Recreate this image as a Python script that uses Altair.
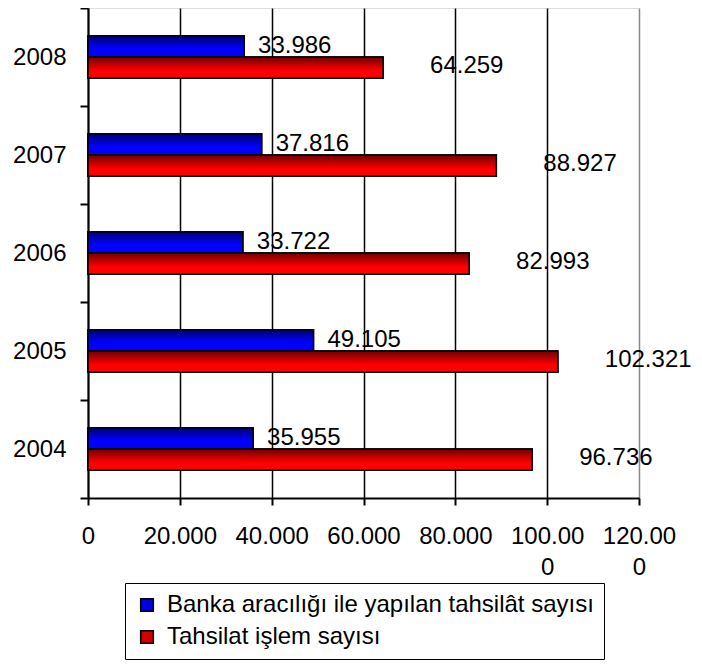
import altair as alt
import pandas as pd

years = ["2004", "2005", "2006", "2007", "2008"]
series = ["Banka aracılığı ile yapılan tahsilât sayısı", "Tahsilat işlem sayısı"]
banka = [35955, 49105, 33722, 37816, 33986]
tahsilat = [96736, 102321, 82993, 88927, 64259]
x_ticks = [0, 20000, 40000, 60000, 80000, 100000, 120000]

def tr(v):
    return f"{v:,}".replace(",", ".")

rows = []
for y, b, t in zip(years, banka, tahsilat):
    rows.append({"year": y, "series": series[0], "value": b, "label": tr(b)})
    rows.append({"year": y, "series": series[1], "value": t, "label": tr(t)})
df = pd.DataFrame(rows)

FONT = "Liberation Sans"
FS = 24

blue_grad = alt.Gradient(
    gradient="linear", x1=0, x2=0, y1=0, y2=1,
    stops=[alt.GradientStop(color="#000070", offset=0),
           alt.GradientStop(color="#0000ff", offset=0.6),
           alt.GradientStop(color="#0000ff", offset=1)])
red_grad = alt.Gradient(
    gradient="linear", x1=0, x2=0, y1=0, y2=1,
    stops=[alt.GradientStop(color="#700000", offset=0),
           alt.GradientStop(color="#ff0000", offset=0.65),
           alt.GradientStop(color="#ff0000", offset=1)])

label_expr = ("datum.value == 0 ? '0' : (datum.value >= 100000 ? "
              "[toString(datum.value/1000) + '.00', '0'] : toString(datum.value/1000) + '.000')")

x_enc = alt.X("value:Q",
              scale=alt.Scale(domain=[0, 120000], nice=False),
              axis=alt.Axis(values=x_ticks, title=None, labelExpr=label_expr,
                            grid=True,
                            gridColor={"condition": {"test": "datum.value === 120000", "value": "#888888"}, "value": "black"},
                            gridWidth=1.5,
                            domainColor="black", domainWidth=2,
                            tickColor="black", tickSize=7, tickWidth=2,
                            labelFont=FONT, labelFontSize=FS, labelColor="black",
                            labelPadding=19, labelLineHeight=31, labelBaseline="top",
                            labelFlush=False, labelOverlap=False))
y_enc = alt.Y("year:N", sort="descending",
              scale=alt.Scale(paddingInner=0, paddingOuter=0),
              axis=alt.Axis(title=None, tickBand="extent", tickSize=8, tickWidth=2,
                            tickColor="black", domainColor="black", domainWidth=2,
                            labelFont=FONT, labelFontSize=FS, labelColor="black",
                            labelPadding=14))
# two empty slots around the pair of bars keep the bars touching and centred
yoff = alt.YOffset("series:N",
                   scale=alt.Scale(domain=["_top", series[0], series[1], "_bottom"],
                                   paddingInner=0, paddingOuter=0.31))

base = alt.Chart(df)

legend_bars = base.mark_bar(stroke="black", strokeWidth=1.5).encode(
    x=x_enc, y=y_enc, yOffset=yoff,
    color=alt.Color("series:N", sort=series,
                    scale=alt.Scale(domain=series, range=["#0000e0", "#d00000"]),
                    legend=alt.Legend(title=None, orient="none", legendX=37, legendY=575,
                                      direction="vertical", strokeColor="black",
                                      fillColor="white", padding=10,
                                      labelFont=FONT, labelFontSize=FS, labelColor="black",
                                      labelLimit=0, labelOffset=8,
                                      symbolType="square", symbolSize=160,
                                      symbolStrokeColor="black", symbolStrokeWidth=1.5,
                                      rowPadding=8)))

blue_bars = base.transform_filter(alt.datum.series == series[0]).mark_bar(
    fill=blue_grad, stroke="black", strokeWidth=1.5).encode(x=x_enc, y=y_enc, yOffset=yoff)
red_bars = base.transform_filter(alt.datum.series == series[1]).mark_bar(
    fill=red_grad, stroke="black", strokeWidth=1.5).encode(x=x_enc, y=y_enc, yOffset=yoff)

blue_text = base.transform_filter(alt.datum.series == series[0]).mark_text(
    align="left", baseline="middle", dx=14, font=FONT, fontSize=FS, color="black").encode(
    x=x_enc, y=y_enc, yOffset=yoff, text="label:N")
red_text = base.transform_filter(alt.datum.series == series[1]).mark_text(
    align="left", baseline="middle", dx=47, dy=-2, font=FONT, fontSize=FS, color="black").encode(
    x=x_enc, y=y_enc, yOffset=yoff, text="label:N")

chart = alt.layer(legend_bars, blue_bars, red_bars, blue_text, red_text).properties(
    width=551, height=490,
    autosize=alt.AutoSizeParams(type="none"),
    padding={"left": 80, "top": 0, "right": 55, "bottom": 164},
).configure_view(stroke="#888888", strokeWidth=1.5).configure(background="white")

chart.save("out.html", embed_options={"renderer": "svg", "actions": False})
